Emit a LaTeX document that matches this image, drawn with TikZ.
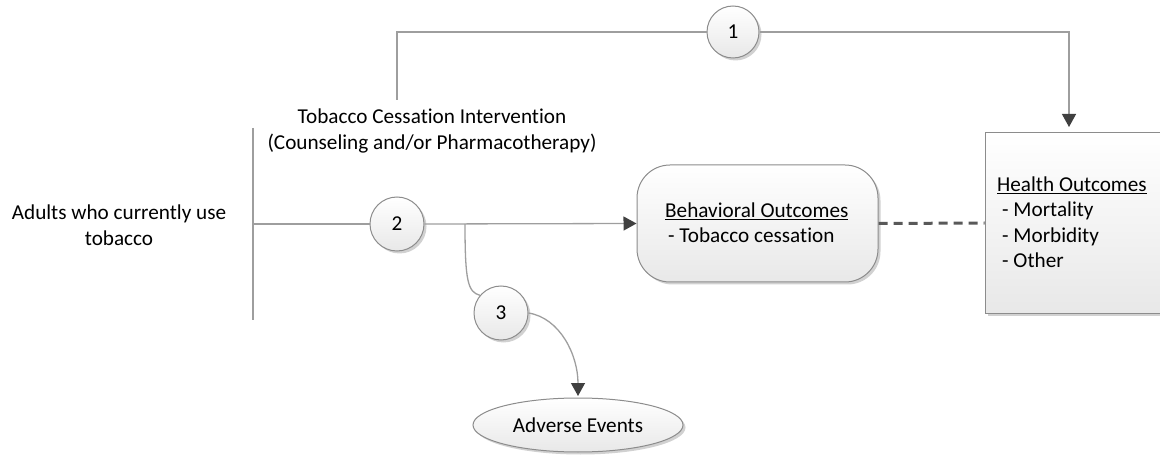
\documentclass[tikz,border=0pt]{standalone}
\usepackage{fontspec}
\setmainfont{Carlito}[Ligatures=NoCommon]
\usetikzlibrary{arrows.meta,shadows,shapes.geometric}
\begin{document}
\begin{tikzpicture}[x=1pt,y=-1pt,
  font=\fontsize{21.2}{26.5}\selectfont,
  conn/.style={draw=black!38, line width=1.3pt},
  tip/.style={-{Triangle[length=13pt,width=14pt,color=black!75]}},
  dashline/.style={draw=black!65, line width=3pt, dash pattern=on 9pt off 6pt},
  shapebox/.style={draw=black!45, line width=1pt, top color=white, bottom color=black!9,
    drop shadow={shadow xshift=2.5pt, shadow yshift=-2.5pt, fill=black!18, opacity=1}},
  num/.style={shapebox, circle, minimum size=54pt, inner sep=0pt},
  txt/.style={inner sep=0pt, anchor=base west},
]
\useasboundingbox (0,0) rectangle (1160,457);

% shapes
\node[num, minimum size=52pt] (c1) at (733,32) {1};
\node[num] (c2) at (397,224) {2};
\node[num] (c3) at (501,313) {3};
\node[shapebox, rectangle, rounded corners=33pt, minimum width=241pt, minimum height=117pt] (beh) at (757.5,223.5) {};
\node[shapebox, rectangle, minimum width=220pt, minimum height=180pt] (hea) at (1095,223) {};
\node[shapebox, ellipse, minimum width=210pt, minimum height=54pt, inner sep=0pt] (ae) at (578,425) {Adverse Events};

% texts
\node[align=center, inner sep=0pt] (pop) at (119,225) {Adults who currently use\\tobacco};
\node[align=center, inner sep=0pt] (int) at (432,131) {Tobacco Cessation Intervention\\(Counseling and/or Pharmacotherapy)};
\node[txt] (bt1) at (665,218) {\underline{Behavioral Outcomes}};
\node[txt] (bt2) at (668,243) {- Tobacco cessation};
\node[txt] (ht1) at (997,192) {\underline{Health Outcomes}};
\node[txt] (ht2) at (1002,217) {- Mortality};
\node[txt] (ht3) at (1002,243) {- Morbidity};
\node[txt] (ht4) at (1002,268) {- Other};

% connectors
\coordinate (vt) at (253,128);
\coordinate (vb) at (253,320);
\coordinate (h0) at (253,224);
\coordinate (s1) at (397,100);
\coordinate (t1) at (1069,127);
\coordinate (b3) at (465,224);
\coordinate (t3) at (578,396);

\draw[conn] (vt) -- (vb);
\draw[conn] (h0) -- (c2.west);
\draw[conn,tip] (c2.east) -- (beh.west);
\draw[conn] (s1) |- (c1.west);
\draw[conn,tip] (c1.east) -| (t1);
\draw[conn] (b3) .. controls (465,282) and (468,292) .. (c3.140);
\draw[conn,tip] (c3.east) .. controls (560,318) and (578,355) .. (t3);
\draw[dashline] (beh.east) -- (hea.west);
\end{tikzpicture}
\end{document}
